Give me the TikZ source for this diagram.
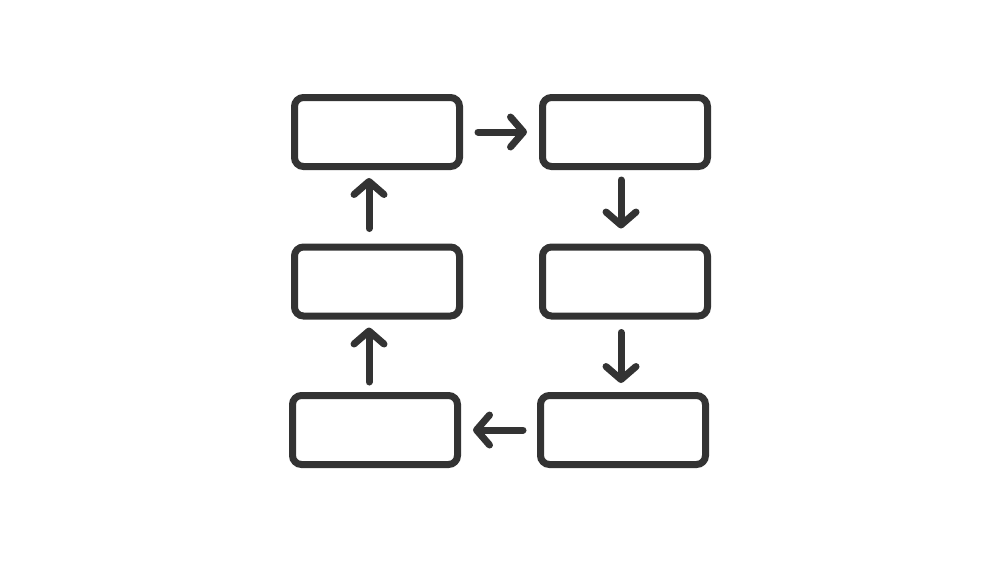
\documentclass[tikz,border=0pt]{standalone}
\usetikzlibrary{arrows.meta}
\definecolor{ink}{HTML}{333333}
\begin{document}
\begin{tikzpicture}[x=1pt,y=-1pt,
  flowbox/.style={draw=ink, line width=7pt, rounded corners=9pt, rectangle,
    minimum width=165pt, minimum height=69pt, inner sep=0pt},
  flowarrow/.style={draw=ink, line width=7pt, line cap=round, line join=round,
    -{Straight Barb[length=13pt, width=30pt, round]}}]
\useasboundingbox[fill=white] (0,0) rectangle (1000,563);
\node[flowbox] (tl) at (377,132) {};
\node[flowbox] (tr) at (625,132) {};
\node[flowbox] (ml) at (377,281.5) {};
\node[flowbox] (mr) at (625,281.5) {};
\node[flowbox] (bl) at (375,430) {};
\node[flowbox] (br) at (623,430) {};
\coordinate (rx) at (621,0);
\coordinate (lx) at (369,0);
\draw[flowarrow, shorten <=15pt, shorten >=12pt] (tl.east) -- (tr.west);
\draw[flowarrow, shorten <=10pt, shorten >=15pt] (tr.south -| rx) -- (mr.north -| rx);
\draw[flowarrow, shorten <=13pt, shorten >=9pt] (mr.south -| rx) -- (br.north -| rx);
\draw[flowarrow, shorten <=14pt, shorten >=12pt] (br.west) -- (bl.east);
\draw[flowarrow, shorten <=10pt, shorten >=8pt] (bl.north -| lx) -- (ml.south -| lx);
\draw[flowarrow, shorten <=15pt, shorten >=8pt] (ml.north -| lx) -- (tl.south -| lx);
\end{tikzpicture}
\end{document}
